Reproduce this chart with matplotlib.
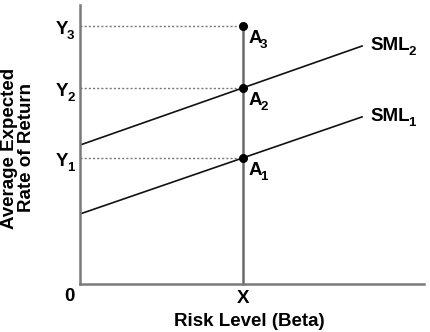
import matplotlib
matplotlib.use("Agg")
import matplotlib.pyplot as plt
from matplotlib.transforms import offset_copy

plt.rcParams['font.family'] = ['Liberation Sans', 'DejaVu Sans']

# data (arbitrary 0-10 scale)
x_point = 4.74
sml_x = [0.0, 8.2]
sml1_y = [2.51, 5.99]
sml2_y = [4.98, 8.53]
point_y = [4.52, 7.03, 9.25]
point_labels = [('A', '1'), ('A', '2'), ('A', '3')]
y_tick_labels = [('Y', '1'), ('Y', '2'), ('Y', '3')]
sml_labels = [('SML', '1'), ('SML', '2')]

W, H = 430, 332
fig = plt.figure(figsize=(W / 100, H / 100), dpi=100)
ax = fig.add_axes([80 / W, (H - 284) / H, (424 - 80) / W, (284 - 5) / H])
ax.set_xlim(0, 10)
ax.set_ylim(0, 10)
for s in ['top', 'right']:
    ax.spines[s].set_visible(False)
for s in ['left', 'bottom']:
    ax.spines[s].set_color('#7a7a7a')
    ax.spines[s].set_linewidth(1.8)
ax.set_xticks([])
ax.set_yticks([])

fs = 13.5
sub_fs = 9.5
em = fs * 100 / 72
sub_em = sub_fs * 100 / 72
renderer = fig.canvas.get_renderer()


def sub_text(x, y, main, sub, dx=0, dy=0):
    """Bold text with subscript. dx: pixel offset of left edge, dy: pixel offset of cap centre."""
    t1 = ax.text(0, 0, main, fontsize=fs, fontweight='bold')
    w1 = t1.get_window_extent(renderer).width
    t1.remove()
    base_main = dy - 0.716 * em / 2
    base_sub = dy - 7 - 0.716 * sub_em / 2
    tr1 = offset_copy(ax.transData, fig=fig, x=dx * 0.72, y=base_main * 0.72, units='points')
    ax.text(x, y, main, fontsize=fs, fontweight='bold', ha='left', va='baseline', transform=tr1, clip_on=False)
    tr2 = offset_copy(ax.transData, fig=fig, x=(dx + w1 - 1.5) * 0.72, y=base_sub * 0.72, units='points')
    ax.text(x, y, sub, fontsize=sub_fs, fontweight='bold', ha='left', va='baseline', transform=tr2, clip_on=False)


# dotted guides
for yv in point_y:
    ax.plot([0, x_point], [yv, yv], linestyle=(0, (1.5, 1.5)), color='#777777', lw=1.0, clip_on=False)
# vertical line at X
ax.plot([x_point, x_point], [0, point_y[2]], color='#6a6a6a', lw=1.8, clip_on=False)
# SML lines
ax.plot(sml_x, sml1_y, color='#111111', lw=1.2)
ax.plot(sml_x, sml2_y, color='#111111', lw=1.2)
# dots
ax.scatter([x_point] * 3, point_y, s=30, color='black', zorder=5, clip_on=False)

# point labels
for yv, (m, s) in zip(point_y, point_labels):
    sub_text(x_point, yv, m, s, dx=5, dy=-10)
# y tick labels
for yv, (m, s) in zip(point_y, y_tick_labels):
    sub_text(0, yv, m, s, dx=-24, dy=-1)
# SML labels
sub_text(sml_x[1], sml1_y[1], sml_labels[0][0], sml_labels[0][1], dx=8, dy=2.5)
sub_text(sml_x[1], sml2_y[1], sml_labels[1][0], sml_labels[1][1], dx=8, dy=2.5)

# axis origin / X labels
ax.text(-0.17, -0.13, '0', fontsize=fs, fontweight='bold', ha='right', va='top')
ax.text(x_point, -0.2, 'X', fontsize=fs, fontweight='bold', ha='center', va='top')

fig.text(249 / W, 1 - 321 / H, 'Risk Level (Beta)', fontsize=fs, fontweight='bold', ha='center', va='center')
fig.text(18 / W, 1 - 148 / H, 'Average Expected\nRate of Return', fontsize=fs, fontweight='bold',
         ha='center', va='center', rotation=90, linespacing=1.05)

fig.savefig('out.png', dpi=100)
